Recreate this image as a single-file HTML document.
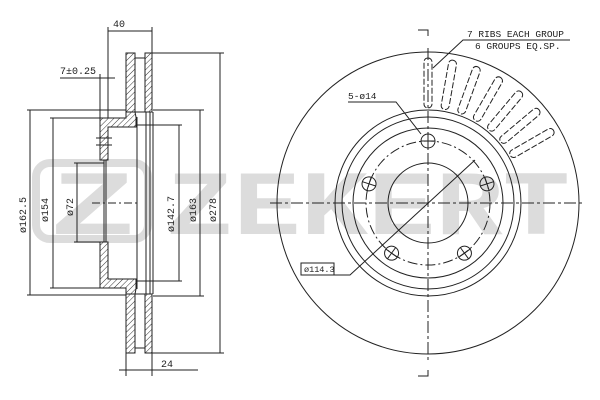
<!DOCTYPE html>
<html><head><meta charset="utf-8"><style>
html,body{margin:0;padding:0;background:#fff;}
svg{display:block;}
text{font-family:"Liberation Mono","DejaVu Sans Mono",monospace;fill:#222;}
</style></head><body>
<svg width="600" height="400" viewBox="0 0 600 400" xmlns="http://www.w3.org/2000/svg">
<defs>
<pattern id="h" width="4" height="4" patternUnits="userSpaceOnUse" patternTransform="rotate(45)">
<rect width="4" height="4" fill="#fff"/><line x1="0" y1="0" x2="0" y2="4" stroke="#333" stroke-width="1"/>
</pattern>
</defs>
<!-- watermark -->
<g fill="#dcdcdc">
<rect x="36" y="163" width="112" height="76" rx="14" fill="none" stroke="#dcdcdc" stroke-width="8"/>
<text x="50" y="234" font-family="Liberation Sans" font-weight="bold" font-size="92" style="fill:#dcdcdc" textLength="86" lengthAdjust="spacingAndGlyphs">Z</text>
<text x="166" y="234" font-family="Liberation Sans" font-weight="bold" font-size="92" style="fill:#dcdcdc" textLength="404" lengthAdjust="spacingAndGlyphs">ZEKERT</text>
</g>
<g stroke="#222" stroke-width="1" fill="none">
<!-- left section: plates -->
<rect x="126" y="53" width="9" height="59" fill="url(#h)"/>
<rect x="145" y="53" width="7" height="59" fill="url(#h)"/>
<rect x="126" y="294" width="9" height="59" fill="url(#h)"/>
<rect x="145" y="294" width="7" height="59" fill="url(#h)"/>
<path d="M126,112 L126,118 L100,118 L100,160 L108,160 L108,127 L136,127 L136,117 L135,112 Z" fill="url(#h)"/>
<path d="M126,294 L126,288 L100,288 L100,242 L108,242 L108,279 L136,279 L136,289 L135,294 Z" fill="url(#h)"/>
<line x1="135" y1="58" x2="145" y2="58"/><line x1="135" y1="348" x2="145" y2="348"/>
<line x1="135" y1="112" x2="145" y2="112"/><line x1="135" y1="294" x2="145" y2="294"/>
<line x1="137" y1="117" x2="137" y2="289"/>
<line x1="146" y1="112" x2="146" y2="294"/>
<line x1="150" y1="112" x2="150" y2="294"/>
<line x1="153" y1="112" x2="153" y2="294"/>
<line x1="104" y1="160" x2="104" y2="242"/><line x1="106" y1="160" x2="106" y2="242"/>
<line x1="96" y1="138" x2="112" y2="138"/><line x1="96" y1="145" x2="112" y2="145"/>
<line x1="92" y1="203" x2="140" y2="203" stroke-dasharray="8,3,2,3"/>
<!-- dimension extension lines -->
<line x1="27" y1="110" x2="126" y2="110"/><line x1="27" y1="295" x2="126" y2="295"/>
<line x1="50" y1="118" x2="100" y2="118"/><line x1="50" y1="288" x2="100" y2="288"/>
<line x1="74" y1="163" x2="104" y2="163"/><line x1="74" y1="242" x2="104" y2="242"/>
<line x1="137" y1="125" x2="182" y2="125"/><line x1="137" y1="281" x2="182" y2="281"/>
<line x1="153" y1="110" x2="204" y2="110"/><line x1="153" y1="296" x2="204" y2="296"/>
<line x1="152" y1="53" x2="224" y2="53"/><line x1="152" y1="353" x2="224" y2="353"/>
<line x1="30" y1="110" x2="30" y2="295"/>
<line x1="53" y1="118" x2="53" y2="288"/>
<line x1="77" y1="163" x2="77" y2="242"/>
<line x1="179" y1="125" x2="179" y2="281"/>
<line x1="200" y1="110" x2="200" y2="296"/>
<line x1="220" y1="53" x2="220" y2="353"/>
<!-- 40 -->
<line x1="108" y1="27" x2="108" y2="118"/><line x1="152" y1="27" x2="152" y2="53"/>
<line x1="108" y1="31" x2="152" y2="31"/>
<!-- 7 -->
<line x1="100" y1="74" x2="100" y2="118"/>
<line x1="60" y1="78" x2="115" y2="78"/>
<!-- 24 -->
<line x1="126" y1="353" x2="126" y2="376"/><line x1="152" y1="353" x2="152" y2="376"/>
<line x1="119" y1="370" x2="198" y2="370"/>
</g>
<g font-size="10">
<text x="113" y="27">40</text>
<text x="60" y="74">7±0.25</text>
<text x="161" y="367">24</text>
<text transform="translate(26,233) rotate(-90)">ø162.5</text>
<text transform="translate(48,222) rotate(-90)">ø154</text>
<text transform="translate(73,216) rotate(-90)">ø72</text>
<text transform="translate(174,232) rotate(-90)">ø142.7</text>
<text transform="translate(196,222) rotate(-90)">ø163</text>
<text transform="translate(216,222) rotate(-90)">ø278</text>
</g>
<!-- right view -->
<g stroke="#222" stroke-width="1" fill="none">
<circle cx="428" cy="203" r="151"/>
<circle cx="428" cy="203" r="93"/>
<circle cx="428" cy="203" r="86"/>
<circle cx="428" cy="203" r="75"/>
<circle cx="428" cy="203" r="40"/>
<circle cx="428" cy="203" r="62" stroke-dasharray="10,3,2,3"/>
<line x1="270" y1="203" x2="584" y2="203" stroke-dasharray="12,3,3,3"/>
<line x1="428" y1="48" x2="428" y2="360" stroke-dasharray="12,3,3,3"/>
<path d="M418,30 L428,30 L428,36"/><path d="M418,376 L428,376 L428,370"/>
<g id="bh"><circle cx="428" cy="141" r="7"/><line x1="421" y1="141" x2="435" y2="141"/><line x1="428" y1="134" x2="428" y2="148"/></g>
<use href="#bh" transform="rotate(72 428 203)"/>
<use href="#bh" transform="rotate(144 428 203)"/>
<use href="#bh" transform="rotate(216 428 203)"/>
<use href="#bh" transform="rotate(288 428 203)"/>
<g id="rib"><rect x="424" y="58" width="8" height="50" rx="4" stroke-dasharray="6,2"/></g>
<use href="#rib" transform="rotate(10 428 203)"/>
<use href="#rib" transform="rotate(20 428 203)"/>
<use href="#rib" transform="rotate(30 428 203)"/>
<use href="#rib" transform="rotate(40 428 203)"/>
<use href="#rib" transform="rotate(50 428 203)"/>
<use href="#rib" transform="rotate(60 428 203)"/>
<!-- leaders -->
<path d="M433,68 L463,40 L570,40"/>
<path d="M348,102 L396,102 L421,134"/>
<path d="M475,160 L350,275 L334,275"/>
<rect x="301" y="263" width="33" height="12"/>
</g>
<g font-size="9.5">
<text x="467" y="37">7 RIBS EACH GROUP</text>
<text x="475" y="49">6 GROUPS EQ.SP.</text>
<text x="348" y="99">5-ø14</text>
<text x="304" y="272" font-size="8.5">ø114.3</text>
</g>
</svg>
</body></html>
